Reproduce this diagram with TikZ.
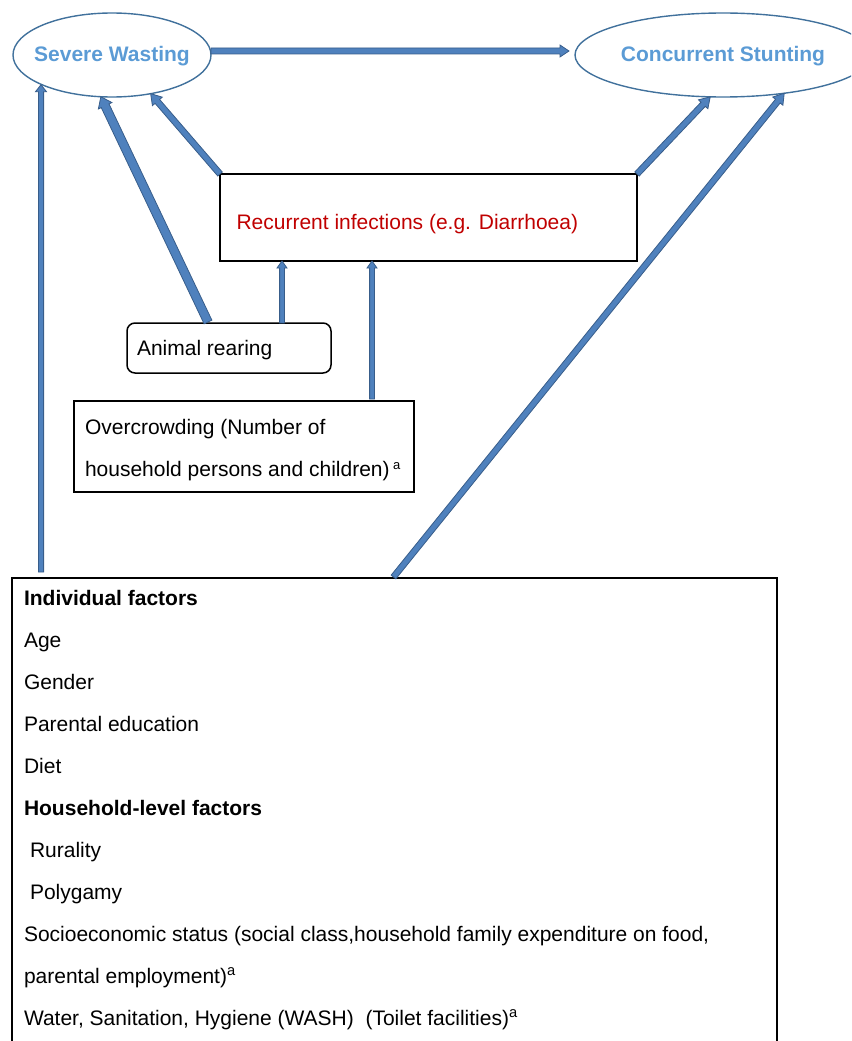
\documentclass[tikz,border=0pt]{standalone}
\usepackage{fontspec}
\setmainfont{Liberation Sans}
\usetikzlibrary{calc,shapes.geometric}
\definecolor{ellline}{HTML}{41719C}
\definecolor{elltext}{HTML}{5B9BD5}
\definecolor{arrfill}{HTML}{4F81BD}
\definecolor{arrline}{HTML}{385D8A}
\definecolor{redtext}{HTML}{C00000}
% #1 start, #2 end, #3 half shaft width, #4 half head width, #5 head length
\newcommand\blockarrow[5]{%
  \draw[barrow] let \p1=($(#2)-(#1)$), \n1={atan2(\y1,\x1)}, \n2={veclen(\x1,\y1)-#5} in
    ($(#1)+(\n1+90:#3pt)$) -- ($(#1)+(\n1:\n2)+(\n1+90:#3pt)$)
    -- ($(#1)+(\n1:\n2)+(\n1+90:#4pt)$) -- (#2)
    -- ($(#1)+(\n1:\n2)+(\n1-90:#4pt)$) -- ($(#1)+(\n1:\n2)+(\n1-90:#3pt)$)
    -- ($(#1)+(\n1-90:#3pt)$) -- cycle;}
\begin{document}
\begin{tikzpicture}[x=1pt,y=-1pt,
  font=\fontsize{21}{25}\selectfont,
  ell/.style={ellipse, draw=ellline, line width=1.4pt, inner sep=0pt, outer sep=0pt},
  elltxt/.style={inner sep=0pt, outer sep=0pt, text=elltext, font=\fontsize{21}{25}\selectfont\bfseries},
  box/.style={rectangle, draw=black, line width=1.5pt, inner sep=0pt, outer sep=0pt},
  txt/.style={anchor=base west, inner sep=0pt, outer sep=0pt},
  barrow/.style={fill=arrfill, draw=arrline, line width=0.8pt, line join=miter}]
\useasboundingbox (0,0) rectangle (851,1041);
\clip (0,0) rectangle (851,1041);

% ellipses
\node[ell, minimum width=198pt, minimum height=84pt] (sw) at (112,55) {};
\node[elltxt, anchor=base] (swT) at (112,61.5) {Severe Wasting};
\node[ell, minimum width=296pt, minimum height=84pt] (cs) at (723,55) {};
\node[elltxt, anchor=base] (csT) at (723,62) {Concurrent Stunting};

% boxes
\node[box, minimum width=417pt, minimum height=87pt] (ri) at (428.5,217.5) {};
\node[box, rounded corners=8pt, minimum width=204pt, minimum height=50pt] (ar) at (229,348) {};
\node[box, minimum width=340pt, minimum height=91pt] (oc) at (244,446.5) {};
\node[box, minimum width=765pt, minimum height=490pt] (big) at (394.5,823) {};

% texts
\node[txt, text=redtext] (riT) at (236.5,229) {Recurrent infections (e.g. Diarrhoea)};
\node[txt] (arT) at (137,355) {Animal rearing};
\node[txt] (ocT1) at (85,434) {Overcrowding (Number of};
\node[txt] (ocT2) at (85,476) {household persons and children)\,{\fontsize{13}{15}\selectfont\raisebox{7pt}{a}}};

\node[txt, font=\fontsize{21}{25}\selectfont\bfseries] (b1) at (24,605) {Individual factors};
\node[txt] (b2) at (24,647) {Age};
\node[txt] (b3) at (24,689) {Gender};
\node[txt] (b4) at (24,731) {Parental education};
\node[txt] (b5) at (24,773) {Diet};
\node[txt, font=\fontsize{21}{25}\selectfont\bfseries] (b6) at (24,815) {Household-level factors};
\node[txt] (b7) at (30,857) {Rurality};
\node[txt] (b8) at (30,899) {Polygamy};
\node[txt] (b9) at (24,941) {Socioeconomic status (social class,household family expenditure on food,};
\node[txt] (b10) at (24,983) {parental employment)\textsuperscript{a}};
\node[txt] (b11) at (24,1025) {Water, Sanitation, Hygiene (WASH)\ \ (Toilet facilities)\textsuperscript{a}};

% connector end points
\coordinate (h1s) at ($(sw.east)+(0,-4)$);
\coordinate (h1e) at ($(h1s -| cs.west)+(-6,0)$);
\coordinate (a1s) at ($(big.north west)+(29,-6)$);
\coordinate (a2s) at ($(ar.north)+(-21,-1)$);
\coordinate (a4s) at ($(ar.north)+(53,0)$);
\coordinate (a5s) at ($(oc.north)+(128,-2)$);
\coordinate (a7s) at ($(big.north)+(-1,-1)$);

% connectors
\blockarrow{h1s}{h1e}{3}{6}{9}
\blockarrow{a1s}{a1s |- sw.203}{2.6}{5.5}{7}
\blockarrow{a2s}{sw.255}{4.3}{7.5}{10}
\blockarrow{ri.north west}{sw.-45}{3}{6.5}{10}
\blockarrow{a4s}{a4s |- ri.south}{2.4}{5}{7}
\blockarrow{a5s}{a5s |- ri.south}{2.4}{5}{7}
\blockarrow{ri.north east}{cs.253}{3}{6.5}{10}
\blockarrow{a7s}{cs.-32}{3}{6.5}{10}
\end{tikzpicture}
\end{document}
